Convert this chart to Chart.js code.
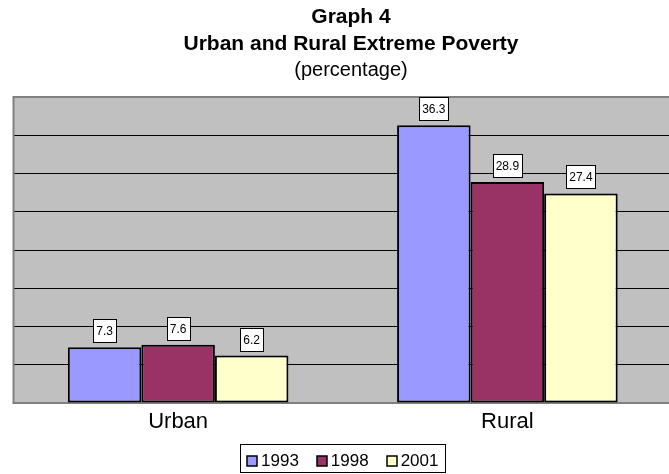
<!DOCTYPE html>
<html>
<head>
<meta charset="utf-8">
<script src="https://cdn.jsdelivr.net/npm/chart.js@4/dist/chart.umd.min.js"></script>
<style>
  html, body { margin: 0; padding: 0; background: #fff; overflow: hidden; }
  #wrap { width: 669px; height: 474px; overflow: hidden; }
</style>
</head>
<body>
<div id="wrap"><canvas id="povertyChart" width="672" height="474"></canvas></div>
<script>
// Graph 4 data
const areas = ['Urban', 'Rural'];
const years = ['1993', '1998', '2001'];
const values1993 = [7.3, 36.3];
const values1998 = [7.6, 28.9];
const values2001 = [6.2, 27.4];
const yearColors = ['#9999ff', '#993366', '#ffffcc'];
const titleLines = ['Graph 4', 'Urban and Rural Extreme Poverty', '(percentage)'];

const FONT = 'Arial, "Liberation Sans", sans-serif';

// gray plot area + border, drawn under the bars
const plotBackground = {
    id: 'plotBackground',
    beforeDraw(chart) {
        const { ctx, chartArea: a } = chart;
        ctx.save();
        ctx.fillStyle = '#c0c0c0';
        ctx.fillRect(a.left, a.top, a.right - a.left, a.bottom - a.top);
        ctx.restore();
    },
    beforeDatasetsDraw(chart) {
        const { ctx, chartArea: a } = chart;
        ctx.save();
        ctx.strokeStyle = '#808080';
        ctx.lineWidth = 2;
        ctx.beginPath();
        ctx.moveTo(a.right + 5, a.top);
        ctx.lineTo(a.left, a.top);
        ctx.lineTo(a.left, a.bottom);
        ctx.lineTo(a.right + 5, a.bottom);
        ctx.stroke();
        ctx.restore();
    }
};

// value boxes above each bar
const valueBoxes = {
    id: 'valueBoxes',
    afterDatasetsDraw(chart) {
        const ctx = chart.ctx;
        ctx.save();
        ctx.font = '12px ' + FONT;
        ctx.textAlign = 'center';
        ctx.textBaseline = 'middle';
        chart.data.datasets.forEach((ds, i) => {
            chart.getDatasetMeta(i).data.forEach((bar, j) => {
                const txt = ds.data[j].toFixed(1);
                const w = Math.round(ctx.measureText(txt).width) + 6;
                const h = 23;
                const x = Math.round(bar.x - w / 2) + 0.5;
                const y = Math.round(bar.y - 5 - h) + 0.5;
                ctx.fillStyle = '#fff';
                ctx.fillRect(x, y, w, h);
                ctx.strokeStyle = '#000';
                ctx.lineWidth = 1;
                ctx.strokeRect(x, y, w, h);
                ctx.fillStyle = '#000';
                ctx.fillText(txt, bar.x, y + h / 2 + 0.5);
            });
        });
        ctx.restore();
    }
};

// title block and boxed legend
const titleAndLegend = {
    id: 'titleAndLegend',
    afterDraw(chart) {
        const ctx = chart.ctx;
        const a = chart.chartArea;
        ctx.save();
        ctx.fillStyle = '#000';
        ctx.textAlign = 'center';
        ctx.textBaseline = 'alphabetic';
        const baselines = [22.5, 50, 76];
        titleLines.forEach((line, i) => {
            ctx.font = (i < 2 ? 'bold 21px ' : '20px ') + FONT;
            ctx.fillText(line, 351, baselines[i]);
        });

        // legend
        ctx.font = '17px ' + FONT;
        const sq = 10, gapText = 4, gapItem = 18;
        let total = 0;
        years.forEach((y, i) => {
            total += sq + gapText + ctx.measureText(y).width + (i < years.length - 1 ? gapItem : 0);
        });
        const cx = (a.left + a.right) / 2;
        const boxL = Math.round(cx - total / 2 - 7) + 0.5;
        const boxW = Math.round(total + 14);
        ctx.fillStyle = '#fff';
        ctx.fillRect(boxL, 444.5, boxW, 28);
        ctx.strokeStyle = '#000';
        ctx.lineWidth = 1;
        ctx.strokeRect(boxL, 444.5, boxW, 28);
        let x = cx - total / 2;
        ctx.textAlign = 'left';
        ctx.textBaseline = 'middle';
        years.forEach((y, i) => {
            ctx.fillStyle = yearColors[i];
            ctx.fillRect(Math.round(x), 456, sq, sq);
            ctx.strokeStyle = '#000';
            ctx.lineWidth = 1.5;
            ctx.strokeRect(Math.round(x), 456, sq, sq);
            x += sq + gapText;
            ctx.fillStyle = '#000';
            ctx.fillText(y, x, 461);
            x += ctx.measureText(y).width + gapItem;
        });
        ctx.restore();
    }
};

const seriesValues = [values1993, values1998, values2001];

new Chart(document.getElementById('povertyChart'), {
    type: 'bar',
    data: {
        labels: areas,
        datasets: years.map((y, i) => ({
            label: y,
            data: seriesValues[i],
            backgroundColor: yearColors[i],
            borderColor: '#000',
            borderWidth: 2,
            borderSkipped: false,
            categoryPercentage: 0.67,
            barPercentage: 1.0
        }))
    },
    options: {
        responsive: false,
        animation: false,
        layout: { padding: { left: 13.5, top: 97, right: 0, bottom: 0 } },
        plugins: {
            legend: { display: false },
            title: { display: false },
            tooltip: { enabled: false }
        },
        scales: {
            x: {
                grid: { display: false, drawTicks: false },
                border: { display: false },
                ticks: { color: '#000', font: { family: FONT, size: 22 }, padding: 6 },
                afterFit: s => { s.height = 71; }
            },
            y: {
                min: 0,
                max: 40,
                ticks: { display: false, stepSize: 5 },
                border: { display: false },
                grid: {
                    drawTicks: false,
                    color: c => (c.tick.value === 0 || c.tick.value === 40) ? 'rgba(0,0,0,0)' : '#000',
                    lineWidth: 1
                },
                afterFit: s => { s.width = 0; }
            }
        }
    },
    plugins: [plotBackground, valueBoxes, titleAndLegend]
});
</script>
</body>
</html>
